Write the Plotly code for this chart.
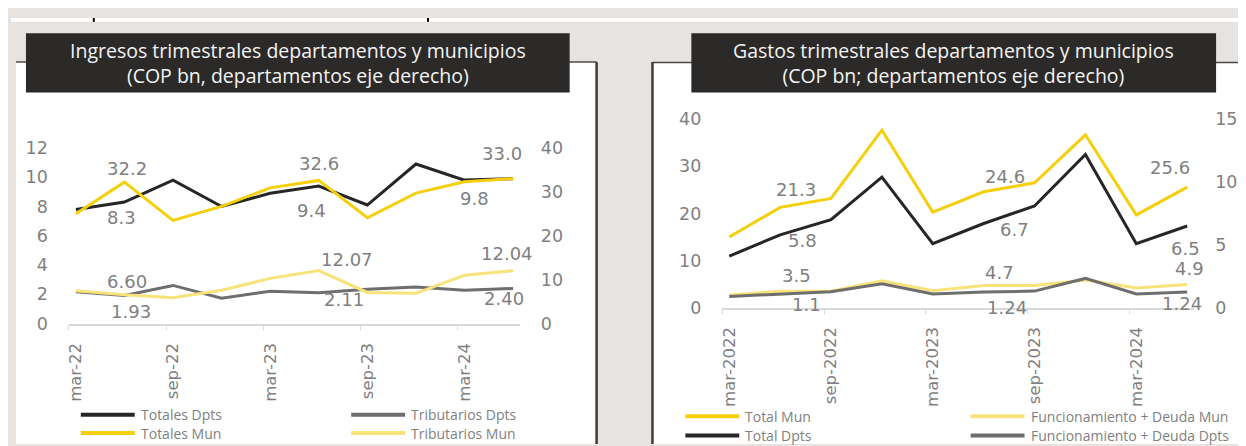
import plotly.graph_objects as go

W, H = 1246, 446

quarters_short = ["mar-22", "jun-22", "sep-22", "dic-22", "mar-23",
                  "jun-23", "sep-23", "dic-23", "mar-24", "jun-24"]
quarters_long = ["mar-2022", "jun-2022", "sep-2022", "dic-2022", "mar-2023",
                 "jun-2023", "sep-2023", "dic-2023", "mar-2024", "jun-2024"]

# Ingresos trimestrales (COP bn)
ing_totales_dpts = [7.8, 8.3, 9.8, 8.0, 8.9, 9.4, 8.1, 10.9, 9.8, 9.9]
ing_totales_mun = [25.0, 32.2, 23.5, 26.7, 30.9, 32.6, 24.1, 29.7, 32.3, 33.0]
ing_tribut_dpts = [2.17, 1.93, 2.61, 1.74, 2.22, 2.11, 2.35, 2.50, 2.28, 2.40]
ing_tribut_mun = [7.5, 6.60, 5.9, 7.6, 10.3, 12.07, 7.1, 6.9, 11.0, 12.04]

# Gastos trimestrales (COP bn)
gas_total_mun = [15.0, 21.3, 23.2, 37.7, 20.3, 24.6, 26.5, 36.7, 19.7, 25.6]
gas_total_dpts = [4.1, 5.8, 7.0, 10.4, 5.1, 6.7, 8.1, 12.2, 5.1, 6.5]
gas_func_mun = [2.7, 3.5, 3.5, 5.7, 3.6, 4.7, 4.7, 5.9, 4.2, 4.9]
gas_func_dpts = [0.9, 1.1, 1.27, 1.9, 1.09, 1.24, 1.32, 2.33, 1.09, 1.24]

# which points carry a value label: (series, index, decimals)
ing_labels = [("tmun", 1, 1), ("tdpts", 1, 1), ("bmun", 1, 2), ("bdpts", 1, 2),
              ("tmun", 5, 1), ("tdpts", 5, 1), ("bmun", 5, 2), ("bdpts", 5, 2),
              ("tmun", 9, 1), ("tdpts", 8, 1), ("bmun", 9, 2), ("bdpts", 9, 2)]
gas_labels = [("tmun", 1, 1), ("tdpts", 1, 1), ("fmun", 1, 1), ("fdpts", 1, 1),
              ("tmun", 5, 1), ("tdpts", 5, 1), ("fmun", 5, 1), ("fdpts", 5, 2),
              ("tmun", 9, 1), ("tdpts", 9, 1), ("fmun", 9, 1), ("fdpts", 9, 2)]
# pixel offsets of those labels
ing_offsets = [(3, 14), (-3, -15), (3, 13), (7, -16),
               (0, 17), (-7, -25), (28, 11), (25, -7),
               (-11, 25), (10, -18), (-6, 17), (-9, -10)]
gas_offsets = [(16, 18), (22, -6), (16, 16), (26, -11),
               (21, 15), (31, -6), (16, 13), (23, -15),
               (-17, 20), (-2, -22), (2, 16), (-5, -11)]

BLACK = "#262626"
YELLOW = "#f5cf0c"
LYELLOW = "#f8e27a"
GRAY = "#6e6e6e"
TXT = "#7f7f7f"
NUMFONT = "DejaVu Sans"


def X(p):
    return p / W


def Y(p):
    return 1 - p / H


ing = {
    "tdpts": (ing_totales_dpts, BLACK, "x", "y"),
    "bdpts": (ing_tribut_dpts, GRAY, "x", "y"),
    "tmun": (ing_totales_mun, YELLOW, "x", "y2"),
    "bmun": (ing_tribut_mun, LYELLOW, "x", "y2"),
}
gas = {
    "tmun": (gas_total_mun, YELLOW, "x2", "y3"),
    "fmun": (gas_func_mun, LYELLOW, "x2", "y3"),
    "fdpts": (gas_func_dpts, GRAY, "x2", "y4"),
    "tdpts": (gas_total_dpts, BLACK, "x2", "y4"),
}

fig = go.Figure()
for series in (ing, gas):
    for key in ["bdpts", "tdpts", "fdpts", "bmun", "tmun", "fmun"]:
        if key not in series:
            continue
        vals, color, xa, ya = series[key]
        fig.add_trace(go.Scatter(
            x=list(range(len(vals))), y=vals, mode="lines",
            line=dict(color=color, width=3),
            xaxis=xa, yaxis=ya, showlegend=False, hoverinfo="skip",
        ))

annotations = []
for series, labels, offsets in ((ing, ing_labels, ing_offsets),
                                (gas, gas_labels, gas_offsets)):
    for (key, i, dec), (dx, dy) in zip(labels, offsets):
        vals, color, xa, ya = series[key]
        annotations.append(dict(
            x=i, y=vals[i], xref=xa, yref=ya, text=f"{vals[i]:.{dec}f}",
            showarrow=False, xshift=dx, yshift=dy,
            font=dict(family=NUMFONT, size=18, color=TXT),
        ))

# titles
for cx, text in ((287.5, "Ingresos trimestrales departamentos y municipios<br>"
                         "(COP bn, departamentos eje derecho)"),
                 (945, "Gastos trimestrales departamentos y municipios<br>"
                       "(COP bn; departamentos eje derecho)")):
    annotations.append(dict(
        x=X(cx), y=Y(47.5), xref="paper", yref="paper", text=text,
        showarrow=False, xanchor="center", yanchor="middle",
        font=dict(family="Open Sans", size=19.5, color="#f4f4f4"),
    ))

shapes = [
    # top strip of the page
    dict(type="rect", xref="paper", yref="paper", x0=0, x1=1, y0=Y(4), y1=1,
         fillcolor="white", line_width=0, layer="below"),
    dict(type="line", xref="paper", yref="paper", x0=X(83), x1=X(83), y0=Y(4), y1=1,
         line=dict(color="black", width=2)),
    dict(type="line", xref="paper", yref="paper", x0=X(418), x1=X(418), y0=Y(4), y1=1,
         line=dict(color="black", width=2)),
    # panels
    dict(type="rect", xref="paper", yref="paper", x0=X(5), x1=X(587), y0=0, y1=Y(46),
         fillcolor="white", line_width=0, layer="below"),
    dict(type="rect", xref="paper", yref="paper", x0=X(643), x1=1, y0=0, y1=Y(46),
         fillcolor="white", line_width=0, layer="below"),
    dict(type="line", xref="paper", yref="paper", x0=X(5), x1=X(587), y0=Y(46), y1=Y(46),
         line=dict(color="#4a4a4a", width=1.5)),
    dict(type="line", xref="paper", yref="paper", x0=X(587), x1=X(587), y0=0, y1=Y(46),
         line=dict(color="#3c3c3c", width=2.5)),
    dict(type="line", xref="paper", yref="paper", x0=X(643), x1=1, y0=Y(46.5), y1=Y(46.5),
         line=dict(color="#4a4a4a", width=1.5)),
    dict(type="line", xref="paper", yref="paper", x0=X(643), x1=X(643), y0=0, y1=Y(46),
         line=dict(color="#3c3c3c", width=2.5)),
    # title boxes
    dict(type="rect", xref="paper", yref="paper", x0=X(15), x1=X(560), y0=Y(78), y1=Y(16),
         fillcolor="#2b2a28", line_width=0),
    dict(type="rect", xref="paper", yref="paper", x0=X(682), x1=X(1208), y0=Y(78), y1=Y(16),
         fillcolor="#2b2a28", line_width=0),
]

# legends (drawn by hand: key line + text)
legend_items = [
    ("Totales Dpts", BLACK, 70, 415.5), ("Totales Mun", YELLOW, 70, 434.5),
    ("Tributarios Dpts", GRAY, 341, 415.5), ("Tributarios Mun", LYELLOW, 341, 434.5),
    ("Total Mun", YELLOW, 676, 417), ("Total Dpts", BLACK, 676, 437),
    ("Funcionamiento + Deuda Mun", LYELLOW, 962, 417),
    ("Funcionamiento + Deuda Dpts", GRAY, 962, 437),
]
for name, color, lx, ly in legend_items:
    shapes.append(dict(type="line", xref="paper", yref="paper",
                       x0=X(lx), x1=X(lx + 54), y0=Y(ly), y1=Y(ly),
                       line=dict(color=color, width=4)))
    annotations.append(dict(
        x=X(lx + 58), y=Y(ly), xref="paper", yref="paper", text=name,
        showarrow=False, xanchor="left", yanchor="middle",
        font=dict(family="Open Sans", size=14, color=TXT),
    ))

xcommon = dict(showgrid=False, zeroline=False, showline=True, linecolor="#d9d9d9",
               linewidth=1.5, ticks="outside", ticklen=5, tickcolor="#d9d9d9",
               tickangle=-90, ticklabelshift=7, ticklabelstandoff=6,
               tickfont=dict(family=NUMFONT, size=16.5, color=TXT))
ycommon = dict(showgrid=False, zeroline=False, showline=False, ticks="",
               ticklabelstandoff=20,
               tickfont=dict(family=NUMFONT, size=17.5, color=TXT))

shift = 0.144
fig.update_layout(
    width=W, height=H, margin=dict(l=0, r=0, t=0, b=0),
    paper_bgcolor="#e6e3e0", plot_bgcolor="rgba(0,0,0,0)",
    xaxis=dict(domain=[X(58), X(510)], range=[-shift, 9.138], anchor="y",
               tickvals=[i - shift for i in range(0, 10, 2)],
               ticktext=quarters_short[0::2], **xcommon),
    yaxis=dict(domain=[Y(320), Y(136)], range=[0, 12], tickvals=list(range(0, 13, 2)),
               anchor="x", **ycommon),
    yaxis2=dict(range=[0, 40], tickvals=list(range(0, 41, 10)), overlaying="y",
                side="right", anchor="x", **ycommon),
    xaxis2=dict(domain=[X(713), X(1186)], range=[-0.137, 9.137], anchor="y3",
                tickvals=[i - 0.137 for i in range(0, 10, 2)],
                ticktext=quarters_long[0::2], **xcommon),
    yaxis3=dict(domain=[Y(303.3), Y(106)], range=[0, 40],
                tickvals=list(range(0, 41, 10)), anchor="x2", **ycommon),
    yaxis4=dict(range=[0, 15], tickvals=list(range(0, 16, 5)), overlaying="y3",
                side="right", anchor="x2", **ycommon),
    shapes=shapes,
    annotations=annotations,
)

fig.write_html("out.html")
